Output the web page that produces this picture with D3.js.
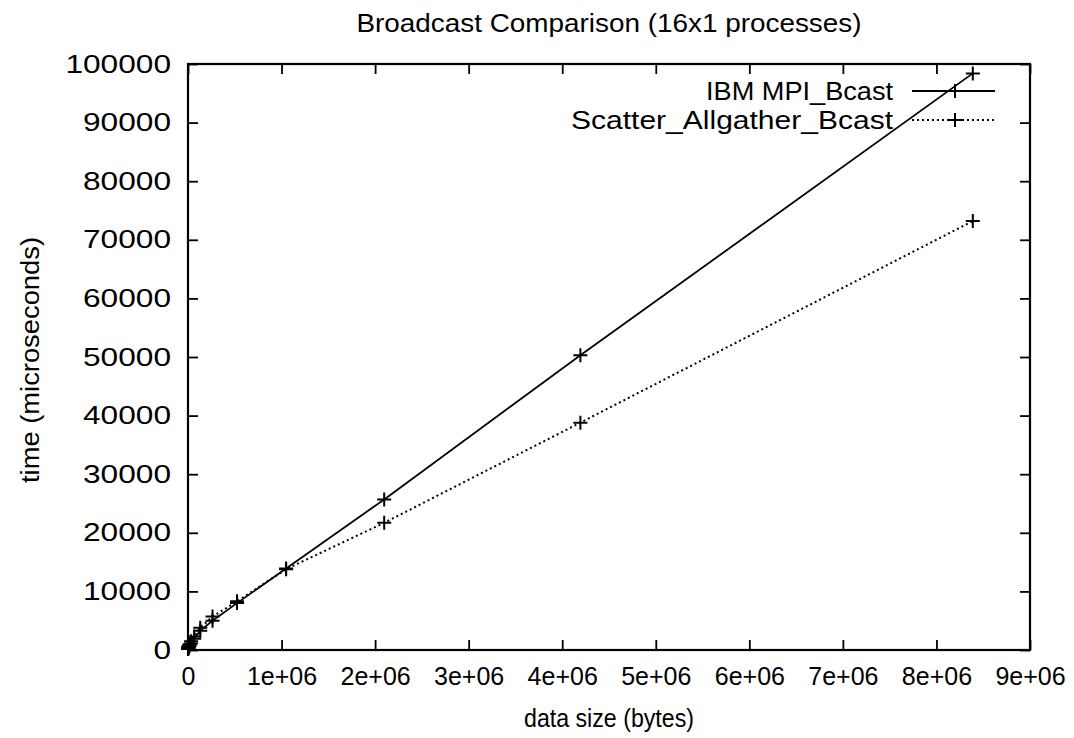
<!DOCTYPE html>
<html>
<head>
<meta charset="utf-8">
<script src="https://cdn.jsdelivr.net/npm/d3@7"></script>
<style>
  html, body { margin: 0; padding: 0; background: #fff; }
  svg { display: block; }
  text { font-family: "Liberation Sans", Arial, Helvetica, sans-serif; fill: #000; }
</style>
</head>
<body>
<svg id="chart" width="1074" height="738"></svg>
<script>
// ---- data ----
const sizes = [1024, 2048, 4096, 8192, 16384, 32768, 65536, 131072, 262144, 524288, 1048576, 2097152, 4194304, 8388608];
const ibmBcast = [150, 200, 300, 450, 700, 1100, 1900, 3300, 5000, 8000, 13900, 25700, 50300, 98400];
const scatterAllgather = [350, 400, 500, 700, 1000, 1500, 2300, 3800, 5700, 8300, 13800, 21700, 38800, 73200];
const seriesNames = ["IBM MPI_Bcast", "Scatter_Allgather_Bcast"];
const xTickValues = [0, 1e6, 2e6, 3e6, 4e6, 5e6, 6e6, 7e6, 8e6, 9e6];
const xTickLabels = ["0", "1e+06", "2e+06", "3e+06", "4e+06", "5e+06", "6e+06", "7e+06", "8e+06", "9e+06"];
const yTickValues = [0, 10000, 20000, 30000, 40000, 50000, 60000, 70000, 80000, 90000, 100000];
const titleText = "Broadcast Comparison (16x1 processes)";
const xTitle = "data size (bytes)";
const yTitle = "time (microseconds)";

// ---- layout ----
const W = 1074, H = 738;
const m = { left: 188, right: 44, top: 64, bottom: 88 };
const svg = d3.select("#chart");
const x = d3.scaleLinear().domain([0, 9e6]).range([m.left, W - m.right]);
const y = d3.scaleLinear().domain([0, 100000]).range([H - m.bottom, m.top]);

const tickLen = 10;
const fs = 25;
const stretch = (sel, len) => sel.attr("textLength", len).attr("lengthAdjust", "spacingAndGlyphs");

// ticks (bottom + mirrored top, left + mirrored right), drawn inward
const gx = svg.append("g").attr("transform", `translate(0,${y(0)})`)
  .call(d3.axisBottom(x).tickValues(xTickValues).tickFormat((d, i) => xTickLabels[i]).tickSizeInner(-tickLen).tickSizeOuter(0).tickPadding(17));
gx.select(".domain").remove();
gx.selectAll("line").attr("stroke", "#000").attr("stroke-width", 1.8);
gx.selectAll("text").attr("font-size", fs).attr("font-family", "Liberation Sans, Arial, sans-serif");

const gxt = svg.append("g").attr("transform", `translate(0,${y(100000)})`)
  .call(d3.axisTop(x).tickValues(xTickValues).tickFormat("").tickSizeInner(-tickLen).tickSizeOuter(0));
gxt.select(".domain").remove();
gxt.selectAll("line").attr("stroke", "#000").attr("stroke-width", 1.8);

const gy = svg.append("g").attr("transform", `translate(${x(0)},0)`)
  .call(d3.axisLeft(y).tickValues(yTickValues).tickFormat(d3.format("d")).tickSizeInner(-tickLen).tickSizeOuter(0).tickPadding(17));
gy.select(".domain").remove();
gy.selectAll("line").attr("stroke", "#000").attr("stroke-width", 1.8);
gy.selectAll("text").attr("font-size", fs).attr("font-family", "Liberation Sans, Arial, sans-serif")
  .each(function(d) { stretch(d3.select(this), String(d).length * 17.6); });

const gyr = svg.append("g").attr("transform", `translate(${x(9e6)},0)`)
  .call(d3.axisRight(y).tickValues(yTickValues).tickFormat("").tickSizeInner(-tickLen).tickSizeOuter(0));
gyr.select(".domain").remove();
gyr.selectAll("line").attr("stroke", "#000").attr("stroke-width", 1.8);

// frame
svg.append("rect")
  .attr("x", x(0)).attr("y", y(100000))
  .attr("width", x(9e6) - x(0)).attr("height", y(0) - y(100000))
  .attr("fill", "none").attr("stroke", "#000").attr("stroke-width", 2.2);

// series
const series = [
  { name: seriesNames[0], values: ibmBcast, dash: null, width: 1.8, legLen: 187 },
  { name: seriesNames[1], values: scatterAllgather, dash: "2,3", width: 2, legLen: 322 }
];
const line = d3.line().x(d => x(d[0])).y(d => y(d[1]));
const plus = (g, cx, cy) => {
  g.append("path")
    .attr("d", `M${cx - 7},${cy}H${cx + 7}M${cx},${cy - 7}V${cy + 7}`)
    .attr("stroke", "#000").attr("stroke-width", 2).attr("fill", "none");
};
series.forEach(s => {
  const pts = sizes.map((v, i) => [v, s.values[i]]);
  svg.append("path").datum(pts).attr("d", line)
    .attr("fill", "none").attr("stroke", "#000").attr("stroke-width", s.width)
    .attr("stroke-dasharray", s.dash);
  const g = svg.append("g");
  pts.forEach(p => plus(g, x(p[0]), y(p[1])));
});

// legend
const legX = 893, legY0 = 91, legDy = 29;
series.forEach((s, i) => {
  const ly = legY0 + i * legDy;
  const t = svg.append("text").attr("x", legX).attr("y", ly).attr("dy", "0.35em")
    .attr("text-anchor", "end").attr("font-size", fs).text(s.name);
  stretch(t, s.legLen);
  svg.append("line").attr("x1", 912).attr("x2", 995).attr("y1", ly).attr("y2", ly)
    .attr("stroke", "#000").attr("stroke-width", s.width).attr("stroke-dasharray", s.dash);
  plus(svg, 955, ly);
});

// titles
stretch(svg.append("text").attr("x", 609).attr("y", 32)
  .attr("text-anchor", "middle").attr("font-size", fs).text(titleText), 505);
stretch(svg.append("text").attr("x", 609).attr("y", 727)
  .attr("text-anchor", "middle").attr("font-size", fs).text(xTitle), 170);
stretch(svg.append("text").attr("transform", `translate(39,360) rotate(-90)`)
  .attr("text-anchor", "middle").attr("font-size", fs).text(yTitle), 246);
</script>
</body>
</html>
